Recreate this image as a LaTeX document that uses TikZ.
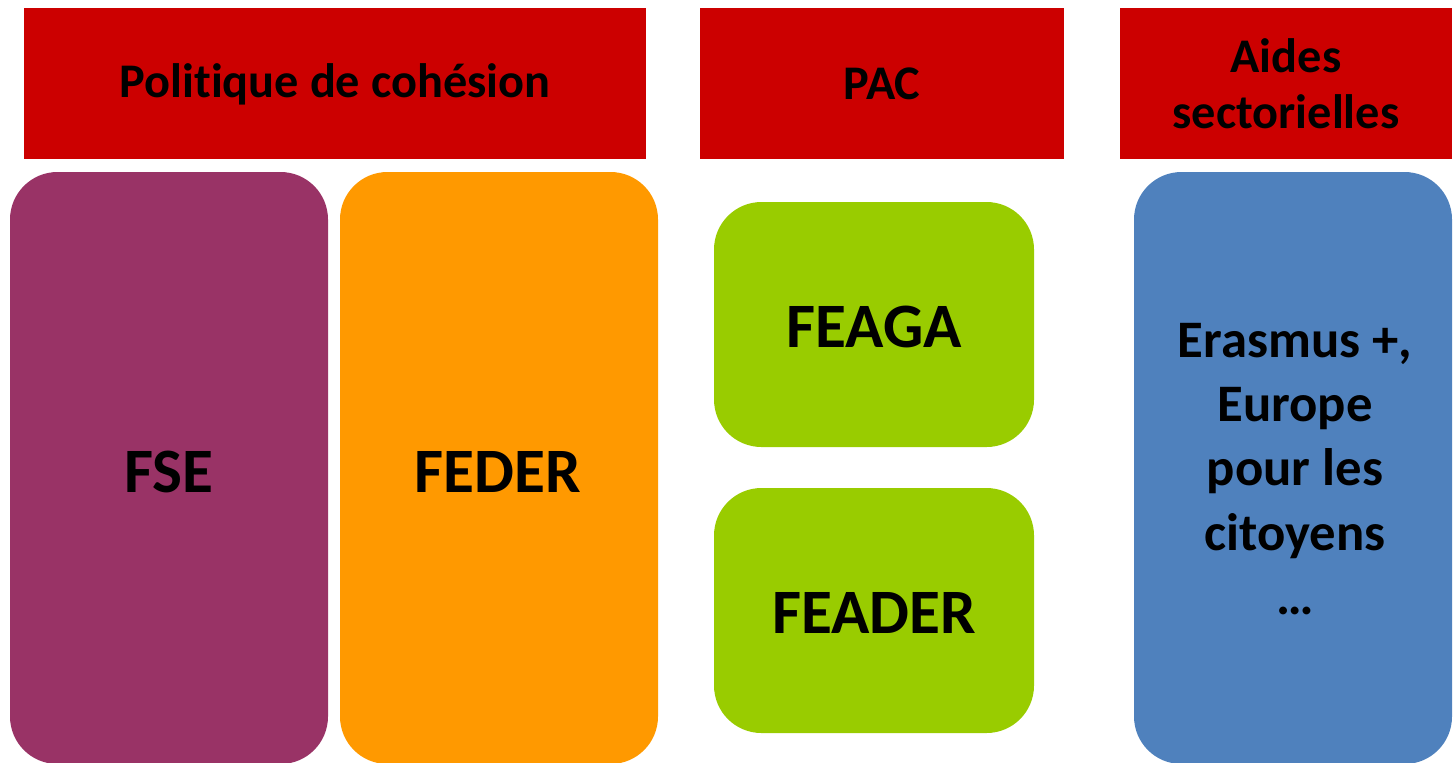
\documentclass[tikz,border=0pt]{standalone}
\usepackage{fontspec}
\setmainfont[Ligatures=NoCommon]{Carlito}
\definecolor{headred}{HTML}{CC0000}
\definecolor{fsecol}{HTML}{993366}
\definecolor{federcol}{HTML}{FF9900}
\definecolor{paccol}{HTML}{99CC00}
\definecolor{aidecol}{HTML}{4F81BD}
\begin{document}
\begin{tikzpicture}[x=0.02cm,y=-0.02cm,
        header/.style={fill=headred},
        fund/.style={rounded corners=0.95cm},
        headtext/.style={font=\bfseries\fontsize{27.5}{32}\selectfont,align=center,inner sep=0pt},
        bigtext/.style={font=\bfseries\fontsize{36}{43}\selectfont,inner sep=0pt},
        listtext/.style={font=\bfseries\fontsize{30}{36.5}\selectfont,align=center,inner sep=0pt}]
        \useasboundingbox (0,0) rectangle (1456,762);
        \clip (0,0) rectangle (1456,762);
        % headers
        \fill[header] (24,8) rectangle (646,159);
        \fill[header] (700,8) rectangle (1064,159);
        \fill[header] (1120,8) rectangle (1452,159);
        \node[headtext] (cohesion) at (335,84) {Politique de cohésion};
        \node[headtext] (pac) at (882,84) {PAC};
        \node[headtext] (aides) at (1286,84) {Aides\\sectorielles};
        % funds
        \fill[fund,fsecol] (10,172) rectangle (328,764);
        \fill[fund,federcol] (340,172) rectangle (658,764);
        \fill[fund,paccol] (714,202) rectangle (1034,447);
        \fill[fund,paccol] (714,488) rectangle (1034,733);
        \fill[fund,aidecol] (1134,172) rectangle (1452,764);
        \node[bigtext] (fse) at (169,472) {FSE};
        \node[bigtext] (feder) at (498,472) {FEDER};
        \node[bigtext] (feaga) at (874,327) {FEAGA};
        \node[bigtext] (feader) at (874,613) {FEADER};
        \node[listtext] (erasmus) at (1295,469) {Erasmus +,\\Europe\\pour les\\citoyens\\…};
\end{tikzpicture}
\end{document}
